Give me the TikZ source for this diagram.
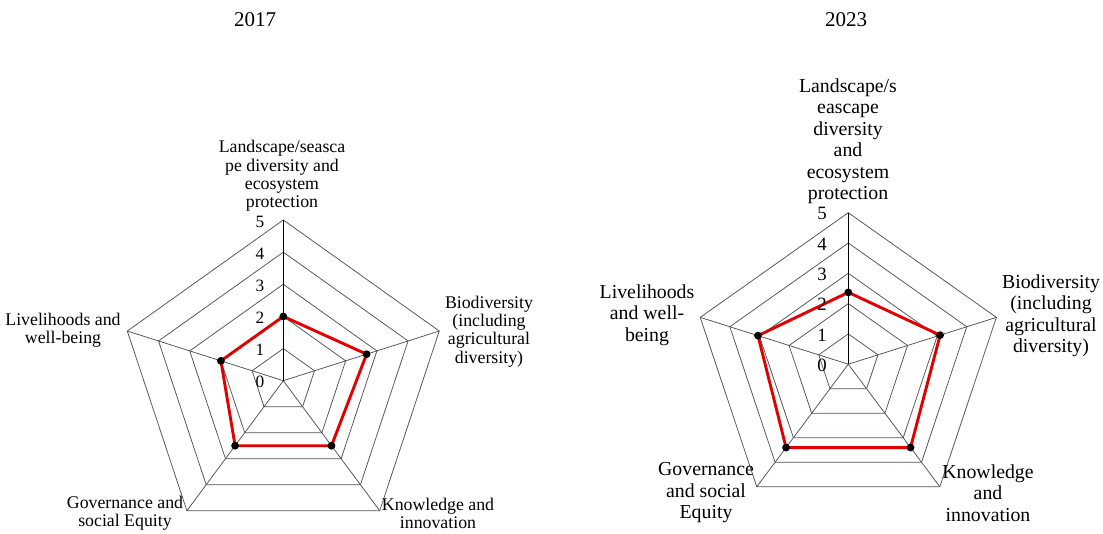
\documentclass[tikz,border=0pt]{standalone}
\usepackage{fontspec}
\setmainfont{Liberation Serif}
\begin{document}
\begin{tikzpicture}[x=1pt,y=-1pt,
  gridline/.style={draw=black!68, line width=0.75pt},
  valaxis/.style={draw=black, line width=0.85pt},
  dataline/.style={draw=red!88!black, line width=2.9pt, line join=round},
  marker/.style={fill=black},
  lblL/.style={align=center, inner sep=0pt, font=\fontsize{17.8}{18.3}\selectfont},
  lblR/.style={align=center, inner sep=0pt, font=\fontsize{19.8}{21.5}\selectfont},
  tickL/.style={inner sep=0pt, font=\fontsize{17.3}{18}\selectfont},
  tickR/.style={inner sep=0pt, font=\fontsize{18.8}{20}\selectfont},
  ttl/.style={inner sep=0pt, font=\fontsize{21}{22}\selectfont}]
\useasboundingbox (0,0) rectangle (1103,533);
\fill[white] (0,0) rectangle (1103,533);

% ---------------- left chart (2017) ----------------
\def\cx{283.3}\def\cy{380.7}\def\rx{164}\def\ry{160.7}
\coordinate (L-o) at (\cx,\cy);
\foreach \k in {0,...,4}
  \coordinate (L-a\k) at ({\cx+\rx*cos(90-72*\k)},{\cy-\ry*sin(90-72*\k)});
\foreach \r in {1,...,5}
  \draw[gridline] ({\cx},{\cy-\r/5*\ry})
    \foreach \k in {1,...,4}{ -- ({\cx+\r/5*\rx*cos(90-72*\k)},{\cy-\r/5*\ry*sin(90-72*\k)}) } -- cycle;
\foreach \k in {1,...,4} \draw[gridline] (L-o) -- (L-a\k);
\draw[valaxis] (L-o) -- (L-a0);
\foreach \k/\v in {0/2,1/2.67,2/2.5,3/2.5,4/2}
  \coordinate (L-d\k) at ({\cx+\v/5*\rx*cos(90-72*\k)},{\cy-\v/5*\ry*sin(90-72*\k)});
\draw[dataline] (L-d0) -- (L-d1) -- (L-d2) -- (L-d3) -- (L-d4) -- cycle;
\foreach \k in {0,...,4} \fill[marker] (L-d\k) circle (3.9);
\foreach \r in {0,...,5} \node[tickL] (L-t\r) at (260,{\cy+1.5-\r/5*\ry}) {\r};
\node[ttl] (L-title) at (255,20) {2017};
\node[lblL] (L-l0) at (282,176) {Landscape/seasca\\pe diversity and\\ecosystem\\protection};
\node[lblL] (L-l1) at (489,331.5) {Biodiversity\\(including\\agricultural\\diversity)};
\node[lblL] (L-l2) at (438,513.5) {Knowledge and\\innovation};
\node[lblL] (L-l3) at (125,513.5) {Governance and\\social Equity};
\node[lblL] (L-l4) at (63,330.5) {Livelihoods and\\well-being};

% ---------------- right chart (2023) ----------------
\def\cx{848.3}\def\cy{364.2}\def\rx{155.7}\def\ry{151.5}
\coordinate (R-o) at (\cx,\cy);
\foreach \k in {0,...,4}
  \coordinate (R-a\k) at ({\cx+\rx*cos(90-72*\k)},{\cy-\ry*sin(90-72*\k)});
\foreach \r in {1,...,5}
  \draw[gridline] ({\cx},{\cy-\r/5*\ry})
    \foreach \k in {1,...,4}{ -- ({\cx+\r/5*\rx*cos(90-72*\k)},{\cy-\r/5*\ry*sin(90-72*\k)}) } -- cycle;
\foreach \k in {1,...,4} \draw[gridline] (R-o) -- (R-a\k);
\draw[valaxis] (R-o) -- (R-a0);
\foreach \k/\v in {0/2.37,1/3.1,2/3.4,3/3.4,4/3.05}
  \coordinate (R-d\k) at ({\cx+\v/5*\rx*cos(90-72*\k)},{\cy-\v/5*\ry*sin(90-72*\k)});
\draw[dataline] (R-d0) -- (R-d1) -- (R-d2) -- (R-d3) -- (R-d4) -- cycle;
\foreach \k in {0,...,4} \fill[marker] (R-d\k) circle (3.9);
\foreach \r in {0,...,5} \node[tickR] (R-t\r) at (822,{\cy+1-\r/5*\ry}) {\r};
\node[ttl] (R-title) at (846,20) {2023};
\node[lblR] (R-l0) at (848,141) {Landscape/s\\eascape\\diversity\\and\\ecosystem\\protection};
\node[lblR] (R-l1) at (1051,316) {Biodiversity\\(including\\agricultural\\diversity)};
\node[lblR] (R-l2) at (988,493) {Knowledge\\and\\innovation};
\node[lblR] (R-l3) at (706,493) {Governance\\and social\\Equity};
\node[lblR] (R-l4) at (647,315) {Livelihoods\\and well-\\being};
\end{tikzpicture}
\end{document}
